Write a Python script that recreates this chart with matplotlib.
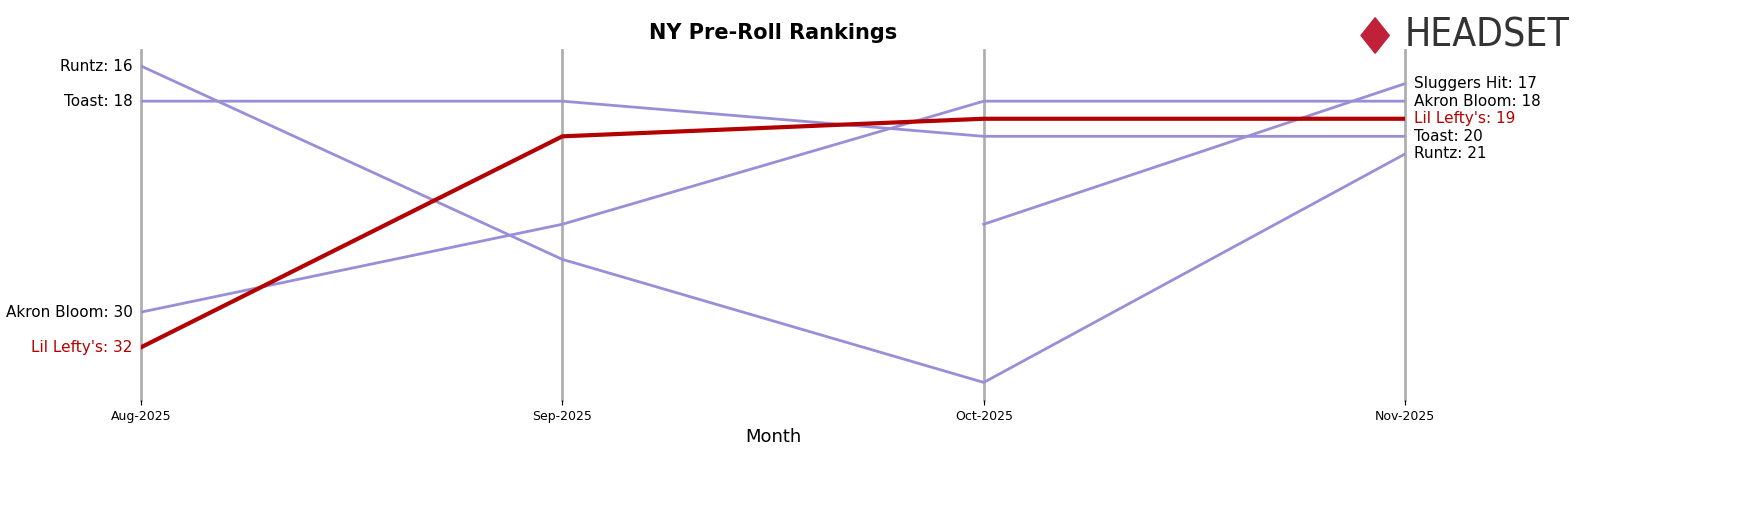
import matplotlib
matplotlib.use("Agg")
import matplotlib.pyplot as plt
import numpy as np

months = ["Aug-2025", "Sep-2025", "Oct-2025", "Nov-2025"]
runtz = [16, 27, 34, 21]
toast = [18, 18, 20, 20]
akron = [30, 25, 18, 18]
lefty = [32, 20, 19, 19]
sluggers = [np.nan, np.nan, 25, 17]

others = [("Runtz", runtz), ("Toast", toast), ("Akron Bloom", akron), ("Sluggers Hit", sluggers)]
PURPLE = "#9b8ed8"
RED = "#b30000"

fig = plt.figure(figsize=(17.63, 5.07), dpi=100)
ax = fig.add_axes([0.08, 0.211, 0.717, 0.69])
x = np.arange(len(months))

for xi in x:
    ax.axvline(xi, color="#b0b0b0", lw=2, zorder=0, clip_on=False)

for name, vals in others:
    ax.plot(x, vals, color=PURPLE, lw=2)
ax.plot(x, lefty, color=RED, lw=3)

# end labels
for name, vals in others + [("Lil Lefty's", lefty)]:
    c = RED if name == "Lil Lefty's" else "black"
    if not np.isnan(vals[0]):
        ax.text(-0.02, vals[0], f"{name}: {vals[0]}", ha="right", va="center", fontsize=11, color=c)
    ax.text(x[-1] + 0.02, vals[-1], f"{name}: {vals[-1]}", ha="left", va="center", fontsize=11, color=c)

ax.set_ylim(35.0, 15.1)
ax.set_xlim(0, 3)
ax.set_xticks(x)
ax.set_xticklabels(months, fontsize=9)
ax.set_yticks([])
for s in ax.spines.values():
    s.set_visible(False)
ax.set_xlabel("Month", fontsize=13)
ax.set_title("NY Pre-Roll Rankings", fontsize=15, fontweight="bold", pad=8)

# logo
fig.text(0.797, 0.93, "HEADSET", fontsize=28, color="#333333", ha="left", va="center",
         fontstretch="condensed")
fig.patches.append(plt.Polygon([[0.772, 0.93], [0.780, 0.965], [0.788, 0.93], [0.780, 0.895]],
                               transform=fig.transFigure, color="#c0203a"))

fig.savefig("out.png", dpi=100)
